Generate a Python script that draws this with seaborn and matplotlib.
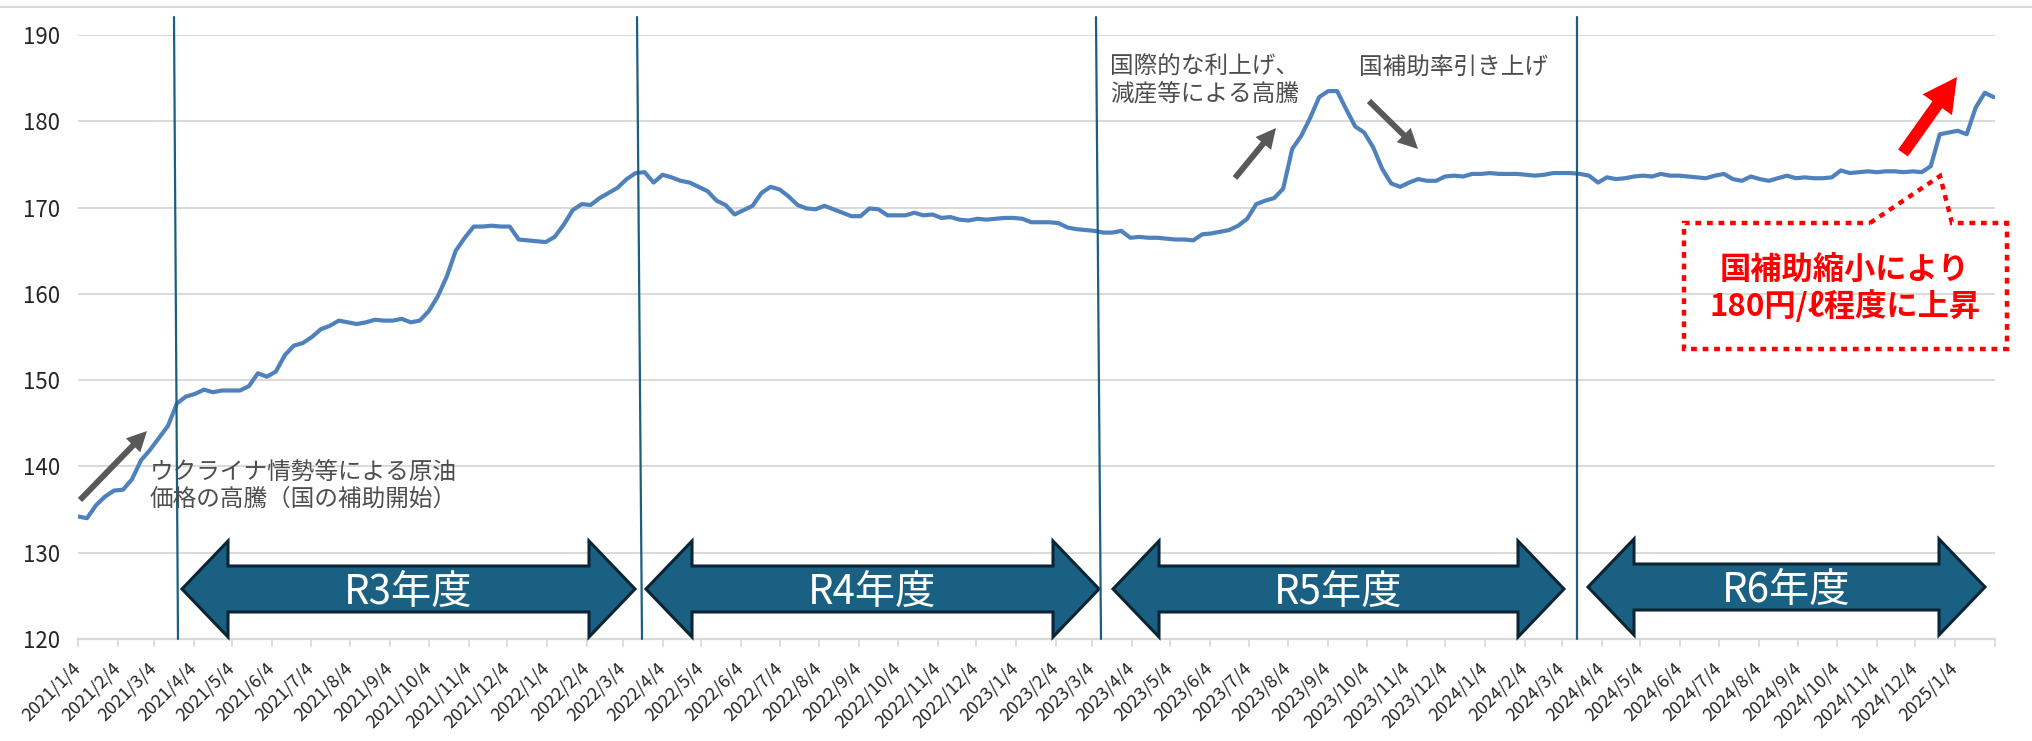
import pandas as pd
import matplotlib
matplotlib.use("Agg")
import matplotlib.pyplot as plt
import matplotlib.transforms as mtransforms
from matplotlib.patches import Polygon, FancyArrow
from matplotlib.lines import Line2D
import seaborn as sns

# weekly gasoline price (yen / litre), every Monday from 2021/1/4
start_date = "2021-01-04"
price = [
    134.2, 134.0, 135.5, 136.5, 137.2, 137.3, 138.5, 140.7, 141.9, 143.3,
    144.7, 147.3, 148.1, 148.4, 148.9, 148.6, 148.8, 148.8, 148.8, 149.3,
    150.8, 150.4, 151.0, 152.9, 154.0, 154.3, 155.0, 155.9, 156.3, 156.9,
    156.7, 156.5, 156.7, 157.0, 156.9, 156.9, 157.1, 156.7, 156.9, 158.0,
    159.7, 162.0, 165.0, 166.5, 167.8, 167.8, 167.9, 167.8, 167.8, 166.3,
    166.2, 166.1, 166.0, 166.6, 168.0, 169.7, 170.4, 170.3, 171.1, 171.7,
    172.3, 173.3, 174.0, 174.1, 172.9, 173.8, 173.5, 173.1, 172.9, 172.4,
    171.9, 170.8, 170.3, 169.2, 169.7, 170.2, 171.7, 172.4, 172.1, 171.3,
    170.3, 169.9, 169.8, 170.2, 169.8, 169.4, 169.0, 169.0, 169.9, 169.8,
    169.1, 169.1, 169.1, 169.4, 169.1, 169.2, 168.8, 168.9, 168.6, 168.5,
    168.7, 168.6, 168.7, 168.8, 168.8, 168.7, 168.3, 168.3, 168.3, 168.2,
    167.7, 167.5, 167.4, 167.3, 167.1, 167.1, 167.3, 166.5, 166.6, 166.5,
    166.5, 166.4, 166.3, 166.3, 166.2, 166.9, 167.0, 167.2, 167.4, 167.9,
    168.7, 170.4, 170.8, 171.1, 172.2, 176.8, 178.3, 180.4, 182.8, 183.5,
    183.5, 181.4, 179.4, 178.7, 177.0, 174.5, 172.8, 172.4, 172.9, 173.3,
    173.1, 173.1, 173.6, 173.7, 173.6, 173.9, 173.9, 174.0, 173.9, 173.9,
    173.9, 173.8, 173.7, 173.8, 174.0, 174.0, 174.0, 173.9, 173.7, 172.9,
    173.5, 173.3, 173.4, 173.6, 173.7, 173.6, 173.9, 173.7, 173.7, 173.6,
    173.5, 173.4, 173.7, 173.9, 173.3, 173.1, 173.6, 173.3, 173.1, 173.4,
    173.7, 173.4, 173.5, 173.4, 173.4, 173.5, 174.3, 174.0, 174.1, 174.2,
    174.1, 174.2, 174.2, 174.1, 174.2, 174.1, 174.8, 178.5, 178.7, 178.9,
    178.5, 181.6, 183.3, 182.8,
]
axis_end = "2025-02-04"
y_ticks = [120, 130, 140, 150, 160, 170, 180, 190]
fiscal_labels = ["R3年度", "R4年度", "R5年度", "R6年度"]
note_ukraine = "ウクライナ情勢等による原油\n価格の高騰（国の補助開始）"
note_rates = "国際的な利上げ、\n減産等による高騰"
note_subsidy = "国補助率引き上げ"
note_red = "国補助縮小により\n180円/ℓ程度に上昇"

weeks = pd.date_range(start_date, periods=len(price), freq="7D")
df = pd.DataFrame({"week": weeks, "price": price})
tick_dates = list(pd.date_range(start_date, "2025-01-04", freq=pd.DateOffset(months=1)))
tick_labels = [f"{d.year}/{d.month}/{d.day}" for d in tick_dates]

sns.set_theme(style="white")
plt.rcParams["font.family"] = ["Noto Sans CJK JP", "DejaVu Sans"]

W, H = 2033, 741
fig = plt.figure(figsize=(W / 100, H / 100), dpi=100)
ax = fig.add_axes([78 / W, 1 - 639 / H, (1995 - 78) / W, (639 - 35) / H])

sns.lineplot(data=df, x="week", y="price", ax=ax, color="#4F81BD", lw=3, zorder=3)

ax.set_xlim(pd.Timestamp(start_date), pd.Timestamp(axis_end))
ax.set_ylim(120, 190)
ax.set_xlabel("")
ax.set_ylabel("")
ax.set_yticks(y_ticks)
ax.set_xticks(tick_dates + [pd.Timestamp(axis_end)])
ax.set_xticklabels(tick_labels + [""])
ax.yaxis.grid(True, color="#D9D9D9", lw=1.4)
ax.xaxis.grid(False)
ax.set_axisbelow(True)
for s in ["left", "right", "top"]:
    ax.spines[s].set_visible(False)
ax.spines["bottom"].set_color("#D9D9D9")
ax.spines["bottom"].set_linewidth(1.6)
ax.tick_params(axis="x", bottom=True, length=6, width=1.2, color="#D9D9D9",
               pad=13, labelsize=13, labelcolor="#262626")
ax.tick_params(axis="y", left=False, length=0, pad=13, labelsize=16,
               labelcolor="#262626")
for lbl in ax.get_xticklabels():
    lbl.set_rotation(45)
    lbl.set_ha("right")
    lbl.set_va("center")
    lbl.set_rotation_mode("anchor")

# shapes drawn on top, in pixel coordinates of the picture (origin top-left)
ref = mtransforms.Affine2D().scale(1 / 100, -1 / 100).translate(0, H / 100) + fig.dpi_scale_trans

fig.add_artist(Line2D([0, W], [7, 7], transform=ref, color="#D9D9D9", lw=1.5))

# fiscal year boundaries
for xt, xb in [(174, 178), (637, 642), (1096, 1101), (1577, 1577)]:
    fig.add_artist(Line2D([xt, xb], [17, 639], transform=ref, color="#1B5E80", lw=1.6))

# fiscal year double arrows
spans = [(182, 635, 589), (646, 1099, 589), (1113, 1564, 589), (1588, 1985, 587)]
for (x0, x1, yc), lab in zip(spans, fiscal_labels):
    hl, hh, sh = 46, 48, 23
    pts = [(x0, yc), (x0 + hl, yc - hh), (x0 + hl, yc - sh), (x1 - hl, yc - sh),
           (x1 - hl, yc - hh), (x1, yc), (x1 - hl, yc + hh), (x1 - hl, yc + sh),
           (x0 + hl, yc + sh), (x0 + hl, yc + hh)]
    fig.add_artist(Polygon(pts, closed=True, transform=ref, facecolor="#1A6083",
                           edgecolor="#0C2535", lw=2.2, joinstyle="miter"))
    fig.text((x0 + x1) / 2, yc + 3, lab, transform=ref, ha="center", va="center",
             fontsize=29, color="white")

# gray notes
gray = "#4D4D4D"
fig.text(150, 486, note_ukraine, transform=ref, ha="left", va="center",
         fontsize=17, color=gray, linespacing=1.2)
fig.text(1110, 81, note_rates, transform=ref, ha="left", va="center",
         fontsize=17, color=gray, linespacing=1.2)
fig.text(1359, 68, note_subsidy, transform=ref, ha="left", va="center",
         fontsize=17, color=gray)
for (x0, y0), (x1, y1) in [((80, 500), (147, 431)), ((1235, 178), (1276, 128)),
                           ((1369, 101), (1418, 149))]:
    fig.add_artist(FancyArrow(x0, y0, x1 - x0, y1 - y0, width=6, head_width=20,
                              head_length=20, length_includes_head=True,
                              transform=ref, color="#595959", lw=0))

# red arrow and dotted callout
fig.add_artist(FancyArrow(1903, 153, 54, -76, width=12, head_width=36, head_length=34,
                          length_includes_head=True, transform=ref, color="#FF0000", lw=0))
callout = [(1870, 223), (1940, 176), (1952, 223), (2007, 223), (2007, 349),
           (1684, 349), (1684, 223)]
fig.add_artist(Polygon(callout, closed=True, transform=ref, fill=False,
                       edgecolor="#FF0000", lw=3.2, linestyle=(0, (1.3, 1.3)),
                       joinstyle="miter"))
fig.text(1845, 289, note_red, transform=ref, ha="center", va="center",
         fontsize=22.5, fontweight="bold", color="#FF0000", linespacing=1.15)

fig.savefig("out.png", dpi=100)
